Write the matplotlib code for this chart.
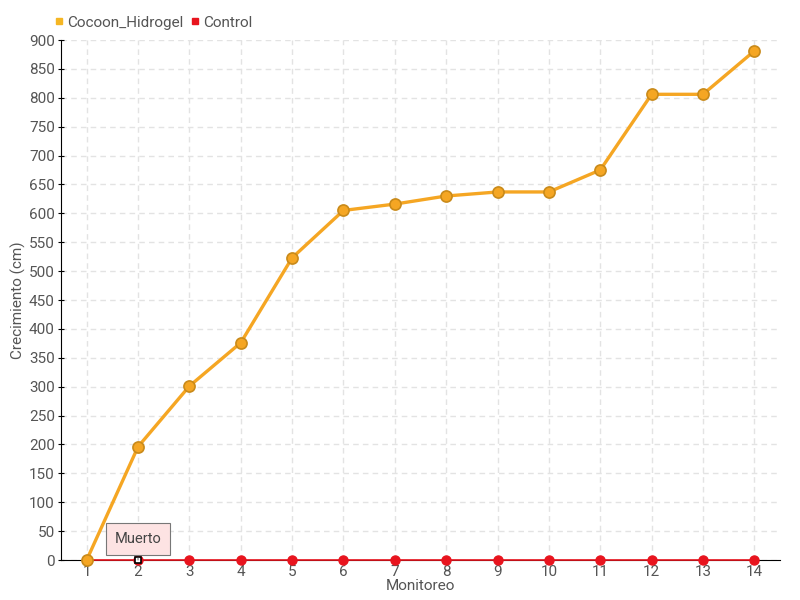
import matplotlib
matplotlib.use("Agg")
import matplotlib.pyplot as plt
from matplotlib.lines import Line2D

monitoreo = list(range(1, 15))
hidrogel = [0, 196, 301, 376, 523, 605, 616, 630, 637, 637, 675, 806, 806, 881]
control = [0] * 14
y_ticks = list(range(0, 901, 50))

plt.rcParams['font.family'] = ['Roboto', 'DejaVu Sans']

fig = plt.figure(figsize=(8, 6), dpi=100)
ax = fig.add_axes([61 / 800, 40 / 600, 719 / 800, 520 / 600])

ax.plot(monitoreo, control, color='#e8141e', lw=1.2, marker='o', ms=6.5,
        mfc='#e8141e', mec='#e8141e', zorder=3, clip_on=False)
ax.plot(monitoreo, hidrogel, color='#f5a623', lw=2.4, marker='o', ms=8,
        mfc='#f5a623', mec='#c98a1a', mew=1.2, zorder=4, clip_on=False)
# "Muerto" marker on control series at monitoreo 2
ax.plot(monitoreo[1], control[1], marker='s', ms=5, mfc='white', mec='black',
        mew=1.2, zorder=5, clip_on=False)
ax.annotate('Muerto', xy=(monitoreo[1], control[1]), xytext=(monitoreo[1], 36),
            ha='center', va='center', fontsize=10.5, color='#444444',
            bbox=dict(boxstyle='square,pad=0.6', fc='#fde3e3', ec='#777777', lw=0.8),
            arrowprops=dict(arrowstyle='-', color='#777777', lw=0.8), zorder=6)

ax.set_xlim(0.5, 14.5)
ax.set_ylim(0, 900)
ax.set_xticks(monitoreo)
ax.set_yticks(y_ticks)
ax.grid(True, color='#e3e3e3', linestyle=(0, (4, 3)), lw=1)
ax.set_axisbelow(True)

for s in ['top', 'right']:
    ax.spines[s].set_visible(False)
ax.spines['left'].set_color('black')
ax.spines['bottom'].set_color('black')
ax.tick_params(axis='y', direction='inout', length=5, labelsize=11, labelcolor='#555555', pad=2)
ax.tick_params(axis='x', direction='inout', length=5, labelsize=11, labelcolor='#555555', pad=1)

ax.set_xlabel('Monitoreo', fontsize=11, color='#555555', labelpad=0)
ax.set_ylabel('Crecimiento (cm)', fontsize=11, color='#555555', labelpad=2)

handles = [
    Line2D([], [], ls='', marker='s', ms=4, color='#f5b623', label='Cocoon_Hidrogel'),
    Line2D([], [], ls='', marker='s', ms=4, color='#e8141e', label='Control'),
]
fig.legend(handles=handles, loc='upper left', bbox_to_anchor=(44 / 800, 1 - 5 / 600),
           ncol=2, frameon=False, fontsize=11, labelcolor='#555555',
           handlelength=0.6, handletextpad=0.2, columnspacing=0.5, borderpad=0.2)

fig.savefig('out.png', dpi=100)
